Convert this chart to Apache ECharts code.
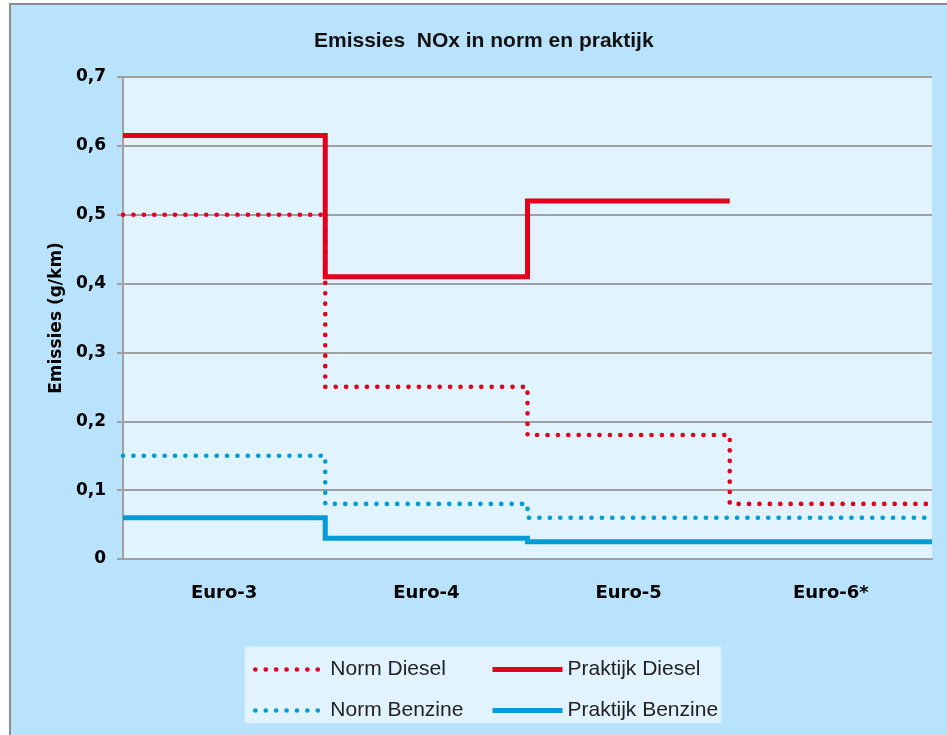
<!DOCTYPE html>
<html>
<head>
<meta charset="utf-8">
<script src="https://cdn.jsdelivr.net/npm/echarts@6/dist/echarts.min.js"></script>
<style>
  html, body { margin: 0; padding: 0; background: #ffffff; }
  #chart { width: 947px; height: 735px; }
</style>
</head>
<body>
<div id="chart"></div>
<script>
// Emission classes (one band per class on the x axis)
const categories = ['Euro-3', 'Euro-4', 'Euro-5', 'Euro-6*'];

// NOx emissions in g/km per class
const normDiesel = [0.5, 0.25, 0.18, 0.08];
const praktijkDiesel = [0.615, 0.41, 0.52, null];
const normBenzine = [0.15, 0.08, 0.06, 0.06];
const praktijkBenzine = [0.06, 0.03, 0.025, 0.025];

// Y axis ticks
const yTicks = [0, 0.1, 0.2, 0.3, 0.4, 0.5, 0.6, 0.7];

const RED = '#e4001c';
const BLUE = '#009cd8';

// Each class value becomes a flat step across its band [i, i+1]
function steps(values) {
  const pts = [];
  values.forEach((v, i) => {
    if (v === null || v === undefined) return;
    pts.push([i, v]);
    pts.push([i + 1, v]);
  });
  return pts;
}

const dotted = { type: [0.1, 10.3], cap: 'round', width: 4.6 };
const legendText = { fontFamily: 'Liberation Sans', fontSize: 21, color: '#222' };

const chart = echarts.init(document.getElementById('chart'), null, { renderer: 'canvas' });

chart.setOption({
  animation: false,
  backgroundColor: '#ffffff',
  graphic: [
    {
      type: 'rect', z: -10, silent: true,
      shape: { x: 10, y: 4, width: 960, height: 760 },
      style: { fill: '#b9e3fc', stroke: '#8c8c8c', lineWidth: 2 }
    },
    {
      type: 'rect', z: -5, silent: true,
      shape: { x: 245, y: 647, width: 476, height: 76 },
      style: { fill: '#e0f3fe', stroke: '#d6eefc', lineWidth: 1 }
    }
  ],
  title: {
    text: 'Emissies  NOx in norm en praktijk',
    left: 309,
    top: 26,
    textStyle: {
      fontFamily: 'Liberation Sans',
      fontWeight: 'bold',
      fontSize: 21,
      color: '#111'
    }
  },
  legend: [
    {
      orient: 'vertical',
      left: 248, top: 654,
      itemWidth: 70, itemHeight: 20, itemGap: 20,
      data: ['Norm Diesel', 'Norm Benzine'],
      itemStyle: { opacity: 0 },
      lineStyle: { width: 4.6, type: [0.1, 10.3], cap: 'round' },
      textStyle: legendText
    },
    {
      orient: 'vertical',
      left: 485, top: 654,
      itemWidth: 70, itemHeight: 20, itemGap: 20,
      data: ['Praktijk Diesel', 'Praktijk Benzine'],
      itemStyle: { opacity: 0 },
      lineStyle: { width: 5 },
      textStyle: legendText
    }
  ],
  grid: { left: 123, right: 15, top: 77, bottom: 176, backgroundColor: '#e0f3fe', show: true, borderWidth: 0 },
  xAxis: [
    {
      type: 'value', min: 0, max: 4,
      axisLine: { show: true, lineStyle: { color: '#a0a0a0', width: 2 } },
      axisTick: { show: false },
      axisLabel: { show: false },
      splitLine: { show: false }
    },
    {
      type: 'category', position: 'bottom',
      data: categories,
      boundaryGap: true,
      axisLine: { show: false },
      axisTick: { show: false },
      axisLabel: {
        margin: 25,
        fontFamily: 'DejaVu Sans', fontWeight: 'bold', fontSize: 18, color: '#000'
      }
    }
  ],
  yAxis: {
    type: 'value', min: yTicks[0], max: yTicks[yTicks.length - 1], interval: 0.1,
    name: 'Emissies (g/km)',
    nameLocation: 'middle',
    nameGap: 58,
    nameRotate: 90,
    nameTextStyle: { fontFamily: 'DejaVu Sans', fontWeight: 'bold', fontSize: 17, color: '#000' },
    axisLine: { show: true, lineStyle: { color: '#a0a0a0', width: 2 } },
    axisTick: { show: true, length: 6, lineStyle: { color: '#a0a0a0', width: 2 } },
    axisLabel: {
      margin: 17,
      fontFamily: 'DejaVu Sans', fontWeight: 'bold', fontSize: 17, color: '#000',
      formatter: v => String(Math.round(v * 10) / 10).replace('.', ',')
    },
    splitLine: { show: true, lineStyle: { color: '#a0a0a0', width: 2 } }
  },
  series: [
    {
      name: 'Norm Diesel', type: 'line', xAxisIndex: 0,
      data: steps(normDiesel), symbol: 'none',
      itemStyle: { color: RED },
      lineStyle: Object.assign({ color: RED }, dotted), z: 3
    },
    {
      name: 'Praktijk Diesel', type: 'line', xAxisIndex: 0,
      data: steps(praktijkDiesel), symbol: 'none',
      itemStyle: { color: RED },
      lineStyle: { color: RED, width: 5, join: 'miter' }, z: 4
    },
    {
      name: 'Norm Benzine', type: 'line', xAxisIndex: 0,
      data: steps(normBenzine), symbol: 'none',
      itemStyle: { color: BLUE },
      lineStyle: Object.assign({ color: BLUE }, dotted), z: 3
    },
    {
      name: 'Praktijk Benzine', type: 'line', xAxisIndex: 0,
      data: steps(praktijkBenzine), symbol: 'none',
      itemStyle: { color: BLUE },
      lineStyle: { color: BLUE, width: 5, join: 'miter' }, z: 4
    }
  ]
});
</script>
</body>
</html>
